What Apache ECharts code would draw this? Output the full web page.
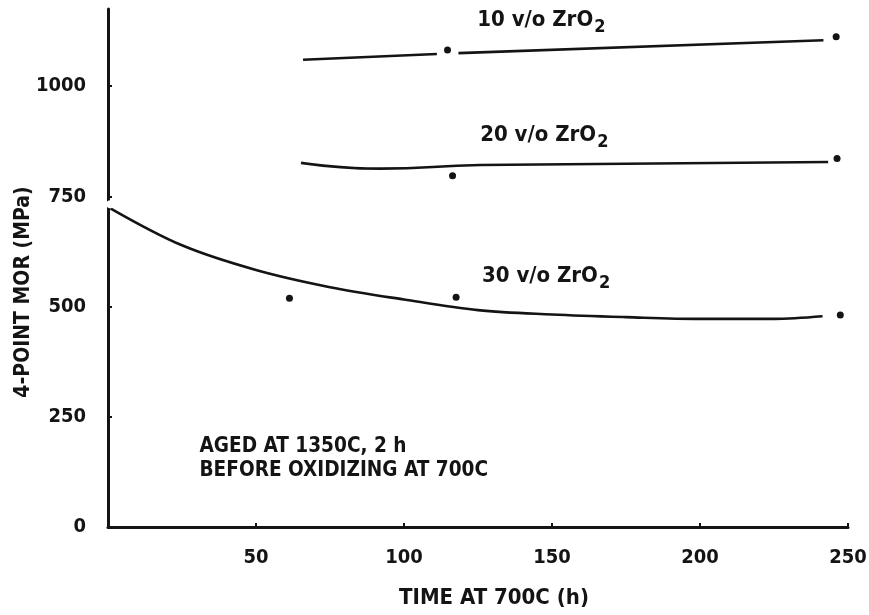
<!DOCTYPE html>
<html>
<head>
<meta charset="utf-8">
<script src="https://cdn.jsdelivr.net/npm/echarts@6/dist/echarts.min.js"></script>
<style>
html,body{margin:0;padding:0;background:#fff;}
#c{width:869px;height:615px;}
</style>
</head>
<body>
<div id="c"></div>
<script>
// ---- data (time h, MOR MPa) ----
const xTitle = 'TIME AT 700C (h)';
const yTitle = '4-POINT MOR (MPa)';
const curve10a = [[65.9, 1060], [111.1, 1073]];
const curve10b = [[118.4, 1075], [241.7, 1104]];
const curve20 = [[65.2, 826], [92, 813], [125.8, 821], [243.3, 828]];
const curve30 = [[0.8, 723], [25, 639], [50, 583], [75, 544], [100, 516], [125, 492], [150, 482], [175, 476], [200, 472], [225, 472], [241.4, 478]];
const points10 = [[114.7, 1082], [246.0, 1112]];
const points20 = [[116.4, 797], [246.3, 836]];
const points30 = [[61.3, 519], [117.6, 521], [247.4, 481]];
const points30open = [[0.8, 732]];
const seriesLabels = [
  { value: [146.4, 1150], num: '10' },
  { value: [147.4, 889], num: '20' },
  { value: [148.0, 569], num: '30' }
];
const noteLines = ['AGED AT 1350C, 2 h', 'BEFORE OXIDIZING AT 700C'];
const notePos = [30.9, 155.5];

const FONT = '"DejaVu Sans Condensed", "DejaVu Sans", sans-serif';
const INK = '#141414';

const lineStyle = { color: INK, width: 2.6 };
function lineSeries(data, smooth) {
  return { type: 'line', data: data, smooth: smooth, showSymbol: false, symbol: 'none',
    lineStyle: lineStyle, silent: true, z: 3, clip: false };
}
function dotSeries(data) {
  return { type: 'scatter', data: data, symbol: 'circle', symbolSize: 7, clip: false,
    itemStyle: { color: INK, opacity: 1 }, silent: true, z: 4 };
}

const chart = echarts.init(document.getElementById('c'), null, { renderer: 'canvas' });
chart.setOption({
  backgroundColor: '#ffffff',
  animation: false,
  grid: { left: 108, right: 21, top: 9, bottom: 88, containLabel: false, outerBoundsMode: 'none' },
  xAxis: {
    type: 'value', min: 0, max: 250, interval: 50,
    name: xTitle, nameLocation: 'middle', nameGap: 60, nameMoveOverlap: false,
    nameTextStyle: { fontFamily: FONT, fontWeight: 'bold', fontSize: 22, color: INK, padding: [0, 0, 0, 32] },
    axisLine: { show: true, lineStyle: { color: INK, width: 3 } },
    axisTick: { show: true, inside: true, length: 4, lineStyle: { color: INK, width: 2 } },
    axisLabel: { showMinLabel: false, margin: 21, fontFamily: FONT, fontWeight: 'bold', fontSize: 20, color: INK,
      formatter: function (v) { return String(v); } },
    splitLine: { show: false }
  },
  yAxis: {
    type: 'value', min: 0, max: 1175, interval: 250,
    name: yTitle, nameLocation: 'middle', nameGap: 74, nameRotate: 90, nameMoveOverlap: false,
    nameTextStyle: { fontFamily: FONT, fontWeight: 'bold', fontSize: 21, color: INK, padding: [0, 48, 0, 0] },
    axisLine: { show: true, lineStyle: { color: INK, width: 3 } },
    axisTick: { show: true, inside: true, length: 4, lineStyle: { color: INK, width: 2 } },
    axisLabel: { showMaxLabel: false, margin: 22, fontFamily: FONT, fontWeight: 'bold', fontSize: 20, color: INK,
      formatter: function (v) { return String(v); } },
    splitLine: { show: false }
  },
  series: [
    lineSeries(curve10a, false),
    lineSeries(curve10b, false),
    lineSeries(curve20, 0.5),
    lineSeries(curve30, 0.35),
    dotSeries(points10),
    dotSeries(points20),
    dotSeries(points30),
    { type: 'scatter', data: points30open, symbol: 'emptyCircle', symbolSize: 6, clip: false,
      itemStyle: { color: '#fff', borderColor: INK, borderWidth: 1.5, opacity: 1 }, silent: true, z: 5 },
    { type: 'scatter', data: seriesLabels, symbolSize: 0, silent: true, z: 6,
      itemStyle: { opacity: 1 },
      label: { show: true, position: 'inside', color: INK, opacity: 1,
        formatter: function (p) { return '{a|' + p.data.num + ' v/o ZrO}{b|2}'; },
        rich: {
          a: { fontFamily: FONT, fontWeight: 'bold', fontSize: 22, color: INK },
          b: { fontFamily: FONT, fontWeight: 'bold', fontSize: 18, color: INK, padding: [14, 0, 0, 1] }
        }
      }
    },
    { type: 'scatter', data: [notePos], symbolSize: 0, silent: true, z: 6,
      itemStyle: { opacity: 1 },
      label: { show: true, position: 'right', distance: 0, align: 'left', verticalAlign: 'middle',
        formatter: noteLines.join('\n'), lineHeight: 23.5, opacity: 1,
        fontFamily: FONT, fontWeight: 'bold', fontSize: 20.6, color: INK }
    }
  ]
});
</script>
</body>
</html>
